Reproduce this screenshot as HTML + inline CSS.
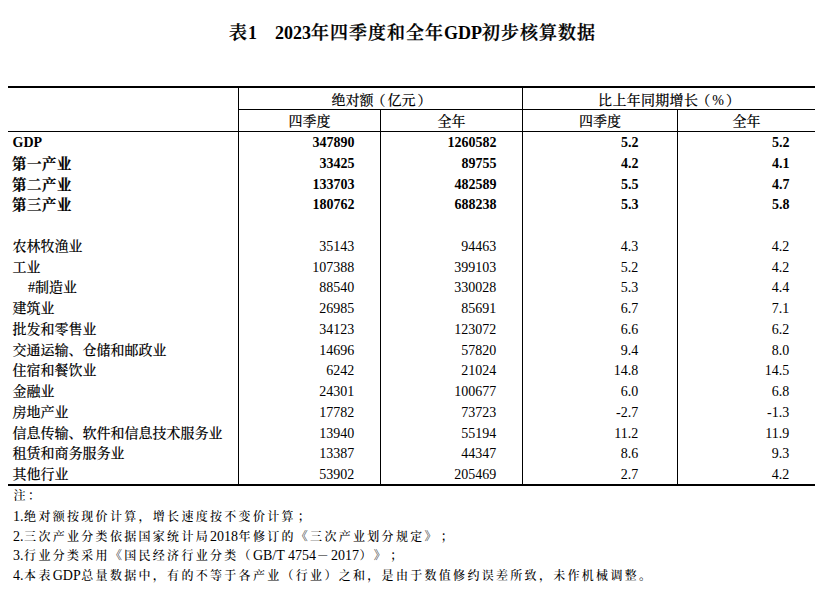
<!DOCTYPE html>
<html lang="zh-CN">
<head>
<meta charset="utf-8">
<title>表1 2023年四季度和全年GDP初步核算数据</title>
<style>
html,body{margin:0;padding:0;background:#fff;}
body{width:824px;height:591px;position:relative;overflow:hidden;color:#000;
 font-family:"Liberation Serif","Noto Serif CJK SC",serif;font-size:14px;text-spacing-trim:space-all;}
.ln{position:absolute;background:#000;}
.t{position:absolute;white-space:nowrap;line-height:20px;height:20px;font-weight:500;}
.title{position:absolute;left:229px;white-space:pre;
 font-weight:600;font-size:18px;line-height:24px;letter-spacing:1px;-webkit-text-stroke:0.25px #000;}
.title i{font-style:normal;letter-spacing:0;font-weight:bold;-webkit-text-stroke:0;}
.h{text-align:center;}
.c{-webkit-text-stroke:0.1px #000;}
.n{text-align:right;}
.b{font-weight:bold;}
.bc{letter-spacing:0.5px;font-size:14.5px;-webkit-text-stroke:0.2px #000;}
.sc{margin-left:2px;}
.pl{position:relative;left:-2px;}
.pr{position:relative;left:2px;}
.note{position:absolute;left:13px;white-space:nowrap;line-height:20px;height:20px;font-size:14px;}
.k{font-size:12px;letter-spacing:2.3px;margin-left:0.6px;font-weight:500;}
</style>
</head>
<body>
<div class="title" style="top:21px">表<i>1</i><i style="margin-left:18px">2023</i>年四季度和全年<i>GDP</i>初步核算数据</div>
<div class="ln" style="left:8px;top:86px;width:807px;height:2px"></div>
<div class="ln" style="left:238px;top:109px;width:577px;height:1px"></div>
<div class="ln" style="left:8px;top:131px;width:807px;height:1px"></div>
<div class="ln" style="left:8px;top:484px;width:807px;height:2px"></div>
<div class="ln" style="left:238px;top:88px;width:1px;height:396px"></div>
<div class="ln" style="left:380px;top:110px;width:1px;height:374px"></div>
<div class="ln" style="left:522px;top:88px;width:1px;height:396px"></div>
<div class="ln" style="left:677px;top:110px;width:1px;height:374px"></div>
<div class="t h c" style="left:239px;width:283px;top:90.50px">绝对额<span class="pl">（</span>亿元<span class="pr">）</span></div>
<div class="t h c" style="left:522px;width:292px;top:90.50px"><span style="letter-spacing:0.3px">比上年同期增长</span><span class="pl">（</span>%<span class="pr">）</span></div>
<div class="t h c" style="left:239px;width:141px;top:111.50px">四季度</div>
<div class="t h c" style="left:381px;width:141px;top:111.50px">全年</div>
<div class="t h c" style="left:523px;width:154px;top:111.50px">四季度</div>
<div class="t h c" style="left:678px;width:137px;top:111.50px">全年</div>
<div class="t b" style="left:12.5px;top:133.00px">GDP</div>
<div class="t n b" style="left:254.5px;width:100px;top:133.00px">347890</div>
<div class="t n b" style="left:396.5px;width:100px;top:133.00px">1260582</div>
<div class="t n b" style="left:538.5px;width:100px;top:133.00px">5.2</div>
<div class="t n b" style="left:689.5px;width:100px;top:133.00px">5.2</div>
<div class="t b bc" style="left:12.0px;top:153.75px">第一产业</div>
<div class="t n b" style="left:254.5px;width:100px;top:153.75px">33425</div>
<div class="t n b" style="left:396.5px;width:100px;top:153.75px">89755</div>
<div class="t n b" style="left:538.5px;width:100px;top:153.75px">4.2</div>
<div class="t n b" style="left:689.5px;width:100px;top:153.75px">4.1</div>
<div class="t b bc" style="left:12.0px;top:174.50px">第二产业</div>
<div class="t n b" style="left:254.5px;width:100px;top:174.50px">133703</div>
<div class="t n b" style="left:396.5px;width:100px;top:174.50px">482589</div>
<div class="t n b" style="left:538.5px;width:100px;top:174.50px">5.5</div>
<div class="t n b" style="left:689.5px;width:100px;top:174.50px">4.7</div>
<div class="t b bc" style="left:12.0px;top:195.25px">第三产业</div>
<div class="t n b" style="left:254.5px;width:100px;top:195.25px">180762</div>
<div class="t n b" style="left:396.5px;width:100px;top:195.25px">688238</div>
<div class="t n b" style="left:538.5px;width:100px;top:195.25px">5.3</div>
<div class="t n b" style="left:689.5px;width:100px;top:195.25px">5.8</div>
<div class="t c" style="left:12.5px;top:236.75px">农林牧渔业</div>
<div class="t n" style="left:254.2px;width:100px;top:236.75px">35143</div>
<div class="t n" style="left:396.2px;width:100px;top:236.75px">94463</div>
<div class="t n" style="left:538.2px;width:100px;top:236.75px">4.3</div>
<div class="t n" style="left:689.2px;width:100px;top:236.75px">4.2</div>
<div class="t c" style="left:12.5px;top:257.50px">工业</div>
<div class="t n" style="left:254.2px;width:100px;top:257.50px">107388</div>
<div class="t n" style="left:396.2px;width:100px;top:257.50px">399103</div>
<div class="t n" style="left:538.2px;width:100px;top:257.50px">5.2</div>
<div class="t n" style="left:689.2px;width:100px;top:257.50px">4.2</div>
<div class="t c" style="left:28.0px;top:278.25px">#制造业</div>
<div class="t n" style="left:254.2px;width:100px;top:278.25px">88540</div>
<div class="t n" style="left:396.2px;width:100px;top:278.25px">330028</div>
<div class="t n" style="left:538.2px;width:100px;top:278.25px">5.3</div>
<div class="t n" style="left:689.2px;width:100px;top:278.25px">4.4</div>
<div class="t c" style="left:12.5px;top:299.00px">建筑业</div>
<div class="t n" style="left:254.2px;width:100px;top:299.00px">26985</div>
<div class="t n" style="left:396.2px;width:100px;top:299.00px">85691</div>
<div class="t n" style="left:538.2px;width:100px;top:299.00px">6.7</div>
<div class="t n" style="left:689.2px;width:100px;top:299.00px">7.1</div>
<div class="t c" style="left:12.5px;top:319.75px">批发和零售业</div>
<div class="t n" style="left:254.2px;width:100px;top:319.75px">34123</div>
<div class="t n" style="left:396.2px;width:100px;top:319.75px">123072</div>
<div class="t n" style="left:538.2px;width:100px;top:319.75px">6.6</div>
<div class="t n" style="left:689.2px;width:100px;top:319.75px">6.2</div>
<div class="t c" style="left:12.5px;top:340.50px">交通运输、仓储和邮政业</div>
<div class="t n" style="left:254.2px;width:100px;top:340.50px">14696</div>
<div class="t n" style="left:396.2px;width:100px;top:340.50px">57820</div>
<div class="t n" style="left:538.2px;width:100px;top:340.50px">9.4</div>
<div class="t n" style="left:689.2px;width:100px;top:340.50px">8.0</div>
<div class="t c" style="left:12.5px;top:361.25px">住宿和餐饮业</div>
<div class="t n" style="left:254.2px;width:100px;top:361.25px">6242</div>
<div class="t n" style="left:396.2px;width:100px;top:361.25px">21024</div>
<div class="t n" style="left:538.2px;width:100px;top:361.25px">14.8</div>
<div class="t n" style="left:689.2px;width:100px;top:361.25px">14.5</div>
<div class="t c" style="left:12.5px;top:382.00px">金融业</div>
<div class="t n" style="left:254.2px;width:100px;top:382.00px">24301</div>
<div class="t n" style="left:396.2px;width:100px;top:382.00px">100677</div>
<div class="t n" style="left:538.2px;width:100px;top:382.00px">6.0</div>
<div class="t n" style="left:689.2px;width:100px;top:382.00px">6.8</div>
<div class="t c" style="left:12.5px;top:402.75px">房地产业</div>
<div class="t n" style="left:254.2px;width:100px;top:402.75px">17782</div>
<div class="t n" style="left:396.2px;width:100px;top:402.75px">73723</div>
<div class="t n" style="left:538.2px;width:100px;top:402.75px">-2.7</div>
<div class="t n" style="left:689.2px;width:100px;top:402.75px">-1.3</div>
<div class="t c" style="left:12.5px;top:423.50px">信息传输、软件和信息技术服务业</div>
<div class="t n" style="left:254.2px;width:100px;top:423.50px">13940</div>
<div class="t n" style="left:396.2px;width:100px;top:423.50px">55194</div>
<div class="t n" style="left:538.2px;width:100px;top:423.50px">11.2</div>
<div class="t n" style="left:689.2px;width:100px;top:423.50px">11.9</div>
<div class="t c" style="left:12.5px;top:444.25px">租赁和商务服务业</div>
<div class="t n" style="left:254.2px;width:100px;top:444.25px">13387</div>
<div class="t n" style="left:396.2px;width:100px;top:444.25px">44347</div>
<div class="t n" style="left:538.2px;width:100px;top:444.25px">8.6</div>
<div class="t n" style="left:689.2px;width:100px;top:444.25px">9.3</div>
<div class="t c" style="left:12.5px;top:465.00px">其他行业</div>
<div class="t n" style="left:254.2px;width:100px;top:465.00px">53902</div>
<div class="t n" style="left:396.2px;width:100px;top:465.00px">205469</div>
<div class="t n" style="left:538.2px;width:100px;top:465.00px">2.7</div>
<div class="t n" style="left:689.2px;width:100px;top:465.00px">4.2</div>
<div class="note" style="top:486.00px"><span class="k">注：</span></div>
<div class="note" style="top:507.00px">1.<span class="k">绝对额按现价计算，增长速度按不变价计算<span class="sc">；</span></span></div>
<div class="note" style="top:526.50px">2.<span class="k">三次产业分类依据国家统计局</span>2018<span class="k">年修订的《三次产业划分规定》<span class="sc">；</span></span></div>
<div class="note" style="top:546.00px">3.<span class="k">行业分类采用《国民经济行业分类（</span>GB/T 4754<span class="k">－</span>2017<span class="k">）》<span class="sc">；</span></span></div>
<div class="note" style="top:565.50px">4.<span class="k">本表</span>GDP<span class="k">总量数据中，有的不等于各产业（行业）之和，是由于数值修约误差所致，未作机械调整。</span></div>
</body>
</html>
